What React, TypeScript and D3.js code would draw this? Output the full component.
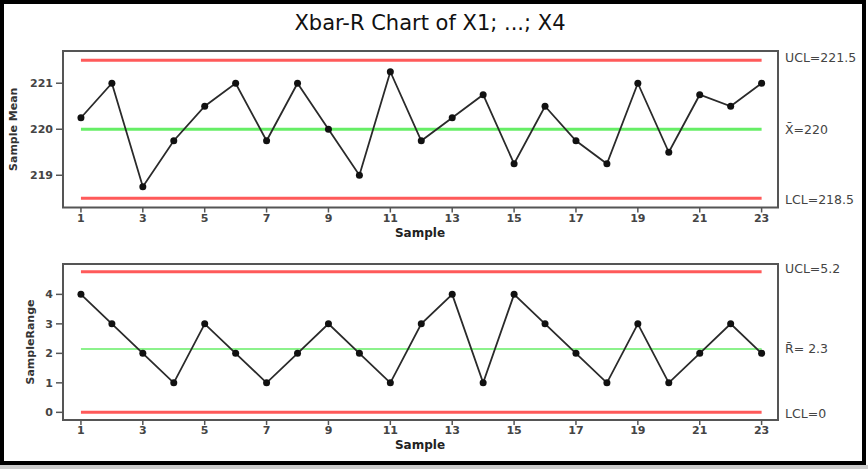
import React from "react";
import * as d3 from "d3";

const samples = d3.range(1, 24);
const sampleMeans = [220.25, 221, 218.75, 219.75, 220.5, 221, 219.75, 221, 220, 219, 221.25, 219.75, 220.25, 220.75, 219.25, 220.5, 219.75, 219.25, 221, 219.5, 220.75, 220.5, 221];
const sampleRanges = [4, 3, 2, 1, 3, 2, 1, 2, 3, 2, 1, 3, 4, 1, 4, 3, 2, 1, 3, 1, 2, 3, 2];
const xTicks = [1, 3, 5, 7, 9, 11, 13, 15, 17, 19, 21, 23];
const meanTicks = [219, 220, 221];
const rangeTicks = [0, 1, 2, 3, 4];
const meanLimits = [221.5, 220, 218.5];
const meanLimitLabels = ["UCL=221.5", "X\u0304=220", "LCL=218.5"];
const rangeLimits = [4.77, 2.15, 0];
const rangeLimitLabels = ["UCL=5.2", "R\u0304= 2.3", "LCL=0"];

const W = 868;
const H = 469;
const FONT = "'DejaVu Sans', Verdana, sans-serif";

type PanelProps = {
  values: number[];
  domain: [number, number];
  top: number;
  bottom: number;
  ticks: number[];
  limits: number[];
  limitLabels: string[];
  yLabel: string;
  yLabelX: number;
  thinCenter: boolean;
};

function Panel(p: PanelProps) {
  const x = d3.scaleLinear().domain([0.42, 23.53]).range([63, 778]);
  const y = d3.scaleLinear().domain(p.domain).range([p.bottom, p.top]);
  const line = d3
    .line<number>()
    .x((_, i) => x(samples[i]))
    .y((d) => y(d));
  const x0 = x(samples[0]);
  const x1 = x(samples[samples.length - 1]);
  const colors = ["#ff5a5a", "#66ee66", "#ff5a5a"];
  const widths = [3, p.thinCenter ? 1.5 : 3, 3];
  const labelOffsets = [-3, 0, 1];
  return (
    <g>
      <rect x={63} y={p.top} width={715} height={p.bottom - p.top} fill="#fff" stroke="#555" strokeWidth={2} />
      {p.limits.map((v, i) => (
        <line key={"l" + i} x1={x0} x2={x1} y1={y(v)} y2={y(v)} stroke={colors[i]} strokeWidth={widths[i]} />
      ))}
      <path d={line(p.values) || ""} fill="none" stroke="#2a2a2a" strokeWidth={1.8} />
      {p.values.map((v, i) => (
        <circle key={"c" + i} cx={x(samples[i])} cy={y(v)} r={3.5} fill="#111" />
      ))}
      {p.ticks.map((t) => (
        <g key={"yt" + t}>
          <line x1={56} x2={63} y1={y(t)} y2={y(t)} stroke="#555" strokeWidth={1.5} />
          <text x={53} y={y(t)} dy="0.35em" textAnchor="end" fontSize={11} fontWeight="bold" fill="#444" fontFamily={FONT}>
            {t}
          </text>
        </g>
      ))}
      {xTicks.map((t) => (
        <g key={"xt" + t}>
          <line x1={x(t)} x2={x(t)} y1={p.bottom} y2={p.bottom + 5} stroke="#555" strokeWidth={1.5} />
          <text x={x(t)} y={p.bottom + 14} textAnchor="middle" fontSize={11} fontWeight="bold" fill="#444" fontFamily={FONT}>
            {t}
          </text>
        </g>
      ))}
      <text x={420} y={p.bottom + 29} textAnchor="middle" fontSize={12} fontWeight="bold" fill="#222" fontFamily={FONT}>
        Sample
      </text>
      <text
        transform={`translate(${p.yLabelX},${(p.top + p.bottom) / 2}) rotate(-90)`}
        textAnchor="middle"
        dy="0.35em"
        fontSize={11}
        fontWeight="bold"
        fill="#333"
        fontFamily={FONT}
      >
        {p.yLabel}
      </text>
      {p.limits.map((v, i) => (
        <text key={"lt" + i} x={785} y={y(v) + labelOffsets[i]} dy="0.35em" fontSize={12.5} fill="#444" fontFamily={FONT}>
          {p.limitLabels[i]}
        </text>
      ))}
    </g>
  );
}

export default function App() {
  return (
    <svg width={W} height={H} style={{ position: "absolute", left: 0, top: 0, background: "#fff" }}>
      <rect x={0} y={0} width={W} height={H} fill="#fff" />
      <rect x={2} y={2} width={862} height={461} fill="none" stroke="#000" strokeWidth={4} />
      <rect x={0} y={465} width={W} height={4} fill="#ccc" />
      <text x={430} y={23} dy="0.35em" textAnchor="middle" fontSize={21} fill="#111" fontFamily={FONT}>
        Xbar-R Chart of X1; ...; X4
      </text>
      <Panel
        values={sampleMeans}
        domain={[218.3, 221.7]}
        top={51}
        bottom={207.5}
        ticks={meanTicks}
        limits={meanLimits}
        limitLabels={meanLimitLabels}
        yLabel="Sample Mean"
        yLabelX={13}
        thinCenter={false}
      />
      <Panel
        values={sampleRanges}
        domain={[-0.26, 5.03]}
        top={264}
        bottom={420}
        ticks={rangeTicks}
        limits={rangeLimits}
        limitLabels={rangeLimitLabels}
        yLabel="SampleRange"
        yLabelX={30}
        thinCenter={true}
      />
    </svg>
  );
}
